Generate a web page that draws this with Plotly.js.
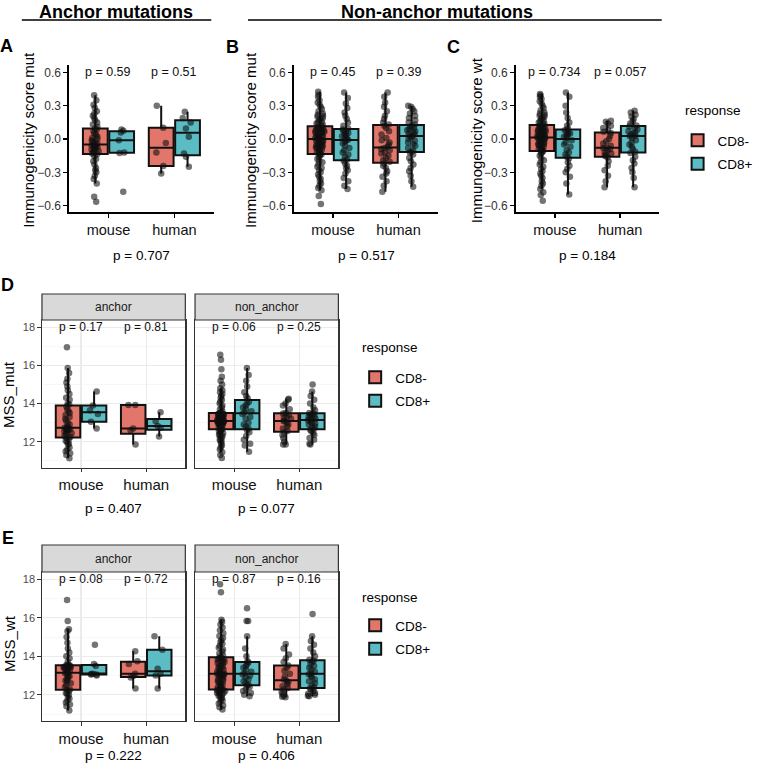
<!DOCTYPE html>
<html><head><meta charset="utf-8">
<script src="https://cdn.plot.ly/plotly-3.0.1.min.js"></script>
<style>html,body{margin:0;padding:0;background:#fff}</style>
</head><body><div id="chart" style="width:759px;height:771px"></div>
<script>
// ---------- categories ----------
const species = ['mouse', 'human'];
const responses = ['CD8-', 'CD8+'];

// ---------- Panel A: anchor mutations, Immunogenicity score mut ----------
const A_mouse_neg = [-0.565,-0.52,-0.40,-0.36,-0.33,-0.30,-0.28,-0.26,-0.23,-0.20,-0.18,-0.155,-0.135,
  -0.13,-0.12,-0.11,-0.10,-0.095,-0.09,-0.08,-0.075,-0.07,-0.06,-0.055,-0.052,-0.048,
  -0.04,-0.03,-0.02,-0.01,0.0,0.01,0.02,0.04,0.05,0.07,0.085,0.095,
  0.11,0.13,0.15,0.17,0.19,0.21,0.23,0.25,0.28,0.31,0.35,0.395];
const A_mouse_pos = [-0.475,-0.125,-0.12,-0.01,0.06,0.075,0.085];
const A_human_neg = [-0.31,-0.243,-0.12,-0.036,0.102,0.30];
const A_human_pos = [-0.25,-0.16,-0.13,0.02,0.094,0.15,0.19,0.246];

// ---------- Panel B: non-anchor mutations, Immunogenicity score mut ----------
const B_mouse_neg = [-0.585,-0.514,-0.46,-0.44,-0.42,-0.40,-0.38,-0.36,-0.34,-0.32,-0.30,-0.28,-0.26,-0.25,-0.23,-0.21,-0.20,-0.18,-0.165,-0.15,-0.14,
  -0.13,-0.125,-0.12,-0.11,-0.10,-0.095,-0.09,-0.08,-0.075,-0.07,-0.06,-0.055,-0.05,-0.045,-0.04,-0.03,-0.025,-0.02,-0.015,-0.01,-0.005,
  0.005,0.01,0.015,0.02,0.025,0.03,0.035,0.04,0.05,0.055,0.06,0.065,0.07,0.075,0.08,0.085,0.09,0.095,0.10,0.105,0.11,
  0.12,0.13,0.14,0.15,0.16,0.17,0.18,0.19,0.20,0.21,0.22,0.23,0.25,0.27,0.29,0.31,0.33,0.35,0.38,0.40,0.426];
const B_mouse_pos = [-0.45,-0.42,-0.38,-0.35,-0.31,-0.28,-0.26,-0.24,-0.22,-0.195,
  -0.185,-0.16,-0.14,-0.12,-0.10,-0.08,-0.06,-0.04,-0.025,-0.012,
  -0.006,0.005,0.015,0.025,0.035,0.045,0.055,0.065,0.075,0.085,
  0.095,0.12,0.15,0.18,0.21,0.24,0.28,0.32,0.37,0.42];
const B_human_neg = [-0.475,-0.42,-0.38,-0.34,-0.31,-0.29,-0.26,-0.24,-0.22,
  -0.205,-0.19,-0.17,-0.15,-0.13,-0.12,-0.10,-0.09,-0.08,
  -0.07,-0.05,-0.03,-0.01,0.01,0.04,0.07,0.10,0.12,
  0.132,0.15,0.18,0.21,0.25,0.29,0.33,0.38,0.42];
const B_human_pos = [-0.43,-0.38,-0.33,-0.29,-0.26,-0.23,-0.20,-0.17,-0.14,-0.12,
  -0.114,-0.10,-0.08,-0.06,-0.045,-0.03,-0.015,0.0,0.015,0.025,
  0.029,0.04,0.05,0.06,0.07,0.08,0.09,0.10,0.11,0.12,
  0.132,0.15,0.17,0.19,0.21,0.23,0.25,0.27,0.29,0.30];

// ---------- Panel C: non-anchor mutations, Immunogenicity score wt ----------
const C_mouse_neg = [-0.556,-0.505,-0.48,-0.45,-0.42,-0.40,-0.38,-0.35,-0.33,-0.31,-0.29,-0.27,-0.25,-0.23,-0.21,-0.19,-0.17,-0.15,-0.13,-0.12,-0.11,
  -0.106,-0.10,-0.09,-0.085,-0.08,-0.07,-0.065,-0.06,-0.05,-0.045,-0.04,-0.03,-0.025,-0.02,-0.01,-0.005,0.0,0.005,0.008,0.011,0.014,
  0.016,0.02,0.025,0.03,0.035,0.04,0.045,0.05,0.055,0.06,0.065,0.07,0.075,0.08,0.09,0.095,0.10,0.105,0.11,0.115,0.122,
  0.13,0.14,0.15,0.16,0.17,0.18,0.19,0.20,0.21,0.22,0.23,0.24,0.26,0.28,0.30,0.32,0.34,0.36,0.38,0.395,0.405];
const C_mouse_pos = [-0.50,-0.40,-0.34,-0.30,-0.27,-0.24,-0.21,-0.175,
  -0.16,-0.14,-0.12,-0.10,-0.07,-0.05,-0.03,-0.01,
  0.01,0.02,0.03,0.04,0.05,0.06,0.07,0.08,
  0.094,0.12,0.15,0.19,0.24,0.30,0.38,0.42];
const C_human_neg = [-0.435,-0.38,-0.33,-0.28,-0.24,-0.20,-0.165,
  -0.153,-0.14,-0.13,-0.12,-0.10,-0.09,-0.08,
  -0.076,-0.06,-0.04,-0.02,0.0,0.03,0.055,
  0.065,0.08,0.10,0.12,0.14,0.155,0.165];
const C_human_pos = [-0.435,-0.35,-0.30,-0.26,-0.22,-0.19,-0.16,-0.125,
  -0.115,-0.09,-0.07,-0.05,-0.03,-0.01,0.01,0.025,
  0.029,0.04,0.05,0.06,0.07,0.085,0.10,0.112,
  0.122,0.14,0.16,0.18,0.20,0.22,0.24,0.255];

// ---------- Panel D: MSS_mut, facets anchor / non_anchor ----------
const D_anc_mouse_neg = [11.13,11.3,11.4,11.5,11.6,11.7,11.85,11.9,12.0,12.05,12.15,12.2,
  12.25,12.3,12.4,12.45,12.5,12.55,12.6,12.6,12.65,12.7,12.7,12.74,
  12.74,12.8,12.9,13.0,13.1,13.2,13.3,13.4,13.5,13.6,13.7,13.85,
  13.95,14.0,14.2,14.3,14.5,14.7,14.9,15.1,15.3,15.6,15.86,16.95];
const D_anc_mouse_pos = [12.7,13.05,13.45,13.65,13.9,14.63];
const D_anc_human_neg = [11.86,12.6,12.7,13.93,13.93];
const D_anc_human_pos = [12.27,12.74,12.83,13.08,13.55];
const D_non_mouse_neg = [11.15,11.3,11.45,11.6,11.7,11.8,11.9,12.0,12.05,12.1,12.2,12.25,12.3,12.35,12.4,12.45,12.5,12.55,12.6,12.64,
  12.66,12.7,12.7,12.75,12.8,12.8,12.85,12.9,12.9,12.95,12.95,13.0,13.0,13.0,13.05,13.05,13.07,13.08,13.08,13.09,
  13.09,13.1,13.12,13.15,13.15,13.2,13.2,13.25,13.25,13.3,13.3,13.35,13.35,13.4,13.4,13.45,13.45,13.48,13.5,13.5,
  13.52,13.6,13.7,13.8,13.9,14.0,14.1,14.2,14.3,14.4,14.5,14.6,14.7,14.8,15.0,15.2,15.4,15.8,16.3,16.56];
const D_non_mouse_pos = [11.47,11.8,11.9,12.1,12.3,12.5,12.6,
  12.7,12.8,12.9,13.0,13.2,13.3,13.45,
  13.53,13.6,13.7,13.8,13.9,14.0,14.1,
  14.28,14.4,14.6,14.9,15.2,15.5,15.86];
const D_non_human_neg = [11.86,11.86,12.0,12.2,12.35,12.5,
  12.56,12.7,12.8,12.9,13.0,13.08,
  13.1,13.2,13.25,13.3,13.4,13.48,
  13.5,13.7,13.9,14.0,14.2,14.25];
const D_non_human_pos = [11.86,11.9,12.1,12.2,12.35,12.45,12.55,12.63,
  12.67,12.75,12.8,12.9,12.95,13.0,13.05,13.12,
  13.16,13.2,13.25,13.3,13.35,13.4,13.45,13.48,
  13.5,13.65,13.8,14.0,14.2,14.4,14.63,15.0];

// ---------- Panel E: MSS_wt, facets anchor / non_anchor ----------
const E_anc_mouse_neg = [11.19,11.4,11.5,11.6,11.7,11.8,11.9,12.0,12.05,12.1,12.2,12.25,
  12.27,12.4,12.5,12.6,12.7,12.75,12.8,12.9,12.95,13.0,13.05,13.12,
  13.16,13.2,13.25,13.3,13.35,13.4,13.42,13.45,13.48,13.5,13.52,13.53,
  13.55,13.7,13.9,14.0,14.2,14.4,14.7,15.0,15.3,15.4,15.84,16.93];
const E_anc_mouse_pos = [13.0,13.05,13.05,13.08,13.1,13.5,13.6,14.6];
const E_anc_human_neg = [12.33,12.9,12.98,13.09,13.6,13.75,14.26];
const E_anc_human_pos = [12.33,13.0,13.1,13.36,14.34,15.04];
const E_non_mouse_neg = [11.24,11.35,11.45,11.55,11.65,11.7,11.8,11.85,11.9,11.95,12.0,12.05,12.1,12.1,12.15,12.2,12.2,12.25,12.25,12.26,
  12.28,12.3,12.35,12.4,12.45,12.5,12.55,12.6,12.65,12.7,12.75,12.8,12.85,12.9,12.95,13.0,13.02,13.05,13.07,13.08,
  13.1,13.12,13.15,13.2,13.25,13.3,13.35,13.4,13.45,13.5,13.55,13.6,13.65,13.7,13.75,13.8,13.85,13.88,13.9,13.93,
  13.97,14.05,14.15,14.25,14.35,14.45,14.55,14.65,14.75,14.85,14.95,15.05,15.2,15.35,15.5,15.65,15.8,15.9,17.33,17.74];
const E_non_mouse_pos = [11.93,12.0,12.1,12.2,12.3,12.4,12.48,
  12.52,12.6,12.7,12.8,12.9,13.0,13.06,
  13.12,13.2,13.3,13.4,13.5,13.6,13.68,
  13.74,14.0,14.4,15.04,15.84,15.84,16.5];
const E_non_human_neg = [11.88,11.9,11.95,12.05,12.15,12.27,12.35,12.45,12.55,12.65,12.72,
  12.8,12.95,13.1,13.25,13.4,13.52,13.7,13.9,14.1,14.4,14.64];
const E_non_human_pos = [11.93,11.95,12.0,12.05,12.1,12.2,12.28,12.34,
  12.38,12.5,12.6,12.7,12.8,12.9,13.0,13.07,
  13.11,13.2,13.3,13.4,13.5,13.6,13.7,13.78,
  13.82,14.0,14.2,14.4,14.6,14.8,15.04,16.2];

// ---------- p-value labels ----------
const pA = ['p = 0.59', 'p = 0.51'],  pA_all = 'p = 0.707';
const pB = ['p = 0.45', 'p = 0.39'],  pB_all = 'p = 0.517';
const pC = ['p = 0.734', 'p = 0.057'], pC_all = 'p = 0.184';
const pD_anc = ['p = 0.17', 'p = 0.81'], pD_non = ['p = 0.06', 'p = 0.25'], pD_all = ['p = 0.407', 'p = 0.077'];
const pE_anc = ['p = 0.08', 'p = 0.72'], pE_non = ['p = 0.87', 'p = 0.16'], pE_all = ['p = 0.222', 'p = 0.406'];
const facets = ['anchor', 'non_anchor'];
const legendTitle = 'response';

// ---------- styling ----------
const W = 759, H = 771;
const FONT = 'Liberation Sans, Arial, sans-serif';
const RED = '#E3766B', CYAN = '#5BBDC3';
const fx = px => px / W, fy = py => 1 - py / H;

function boxTrace(xa, ya, mouseVals, humanVals, resp, legendName, show) {
  return {
    type: 'box', xaxis: xa, yaxis: ya, name: resp,
    x: mouseVals.map(() => species[0]).concat(humanVals.map(() => species[1])),
    y: mouseVals.concat(humanVals),
    alignmentgroup: xa, offsetgroup: resp,
    boxpoints: 'all', jitter: 0.4, pointpos: 0, whiskerwidth: 0,
    fillcolor: resp === responses[0] ? RED : CYAN,
    line: {color: '#111111', width: 2},
    marker: {color: 'rgba(15,15,15,0.58)', size: 6.5, line: {width: 0}},
    legend: legendName, legendgroup: legendName + resp, showlegend: show,
    hoverinfo: 'skip'
  };
}

const traces = [
  boxTrace('x', 'y', A_mouse_neg, A_human_neg, responses[0], 'legend', true),
  boxTrace('x', 'y', A_mouse_pos, A_human_pos, responses[1], 'legend', true),
  boxTrace('x2', 'y2', B_mouse_neg, B_human_neg, responses[0], 'legend', false),
  boxTrace('x2', 'y2', B_mouse_pos, B_human_pos, responses[1], 'legend', false),
  boxTrace('x3', 'y3', C_mouse_neg, C_human_neg, responses[0], 'legend', false),
  boxTrace('x3', 'y3', C_mouse_pos, C_human_pos, responses[1], 'legend', false),
  boxTrace('x4', 'y4', D_anc_mouse_neg, D_anc_human_neg, responses[0], 'legend2', true),
  boxTrace('x4', 'y4', D_anc_mouse_pos, D_anc_human_pos, responses[1], 'legend2', true),
  boxTrace('x5', 'y5', D_non_mouse_neg, D_non_human_neg, responses[0], 'legend2', false),
  boxTrace('x5', 'y5', D_non_mouse_pos, D_non_human_pos, responses[1], 'legend2', false),
  boxTrace('x6', 'y6', E_anc_mouse_neg, E_anc_human_neg, responses[0], 'legend3', true),
  boxTrace('x6', 'y6', E_anc_mouse_pos, E_anc_human_pos, responses[1], 'legend3', true),
  boxTrace('x7', 'y7', E_non_mouse_neg, E_non_human_neg, responses[0], 'legend3', false),
  boxTrace('x7', 'y7', E_non_mouse_pos, E_non_human_pos, responses[1], 'legend3', false)
];

// classic axes (panels A-C)
function classicX(x0, x1, anchor) {
  return {domain: [fx(x0), fx(x1)], anchor: anchor, type: 'category',
    categoryorder: 'array', categoryarray: species, range: [-0.6, 1.6],
    showline: true, linecolor: '#000', linewidth: 1.6, ticks: 'outside', ticklen: 4,
    tickwidth: 1.4, tickcolor: '#000', showgrid: false, zeroline: false,
    tickfont: {size: 14.5, color: '#111', family: FONT}, fixedrange: true};
}
function classicY(anchor) {
  return {domain: [fy(212), fy(65)], anchor: anchor, range: [-0.657, 0.667],
    tickvals: [-0.6, -0.3, 0, 0.3, 0.6], tickformat: '.1f',
    showline: true, linecolor: '#000', linewidth: 1.6, ticks: 'outside', ticklen: 4,
    tickwidth: 1.4, tickcolor: '#000', showgrid: false, zeroline: false,
    tickfont: {size: 12, color: '#333', family: FONT}, fixedrange: true};
}
// bw facet axes (panels D-E)
function bwX(x0, x1, anchor) {
  return {domain: [fx(x0), fx(x1)], anchor: anchor, type: 'category',
    categoryorder: 'array', categoryarray: species, range: [-0.6, 1.6],
    showline: true, mirror: true, linecolor: '#333', linewidth: 1.2,
    ticks: 'outside', ticklen: 3.5, tickwidth: 1.1, tickcolor: '#333',
    showgrid: true, gridcolor: '#EBEBEB', gridwidth: 1.2, zeroline: false,
    tickfont: {size: 15, color: '#111', family: FONT}, fixedrange: true};
}
function bwY(y0, y1, anchor, labels) {
  return {domain: [fy(y1), fy(y0)], anchor: anchor, range: [10.64, 18.38],
    tickvals: [12, 14, 16, 18],
    showline: true, mirror: true, linecolor: '#333', linewidth: 1.2,
    ticks: labels ? 'outside' : '', ticklen: 3.5, tickwidth: 1.1, tickcolor: '#333',
    showticklabels: labels,
    showgrid: true, gridcolor: '#EBEBEB', gridwidth: 1.2, zeroline: false,
    minor: {dtick: 1, tick0: 0, showgrid: true, gridcolor: '#F3F3F3', gridwidth: 0.7, ticks: ''},
    tickfont: {size: 11, color: '#4D4D4D', family: FONT}, fixedrange: true};
}

const annotations = [];
const shapes = [];
function txt(x, y, text, size, opts) {
  annotations.push(Object.assign({x: fx(x), y: fy(y), xref: 'paper', yref: 'paper',
    text: text, showarrow: false, xanchor: 'center', yanchor: 'middle',
    font: {size: size, color: '#000', family: FONT}}, opts || {}));
}

// headers
txt(117, 12, '<b>Anchor mutations</b>', 18);
txt(440, 12, '<b>Non-anchor mutations</b>', 18);
shapes.push({type: 'line', xref: 'paper', yref: 'paper', x0: fx(22), x1: fx(213), y0: fy(20), y1: fy(20), line: {color: '#000', width: 1.5}});
shapes.push({type: 'line', xref: 'paper', yref: 'paper', x0: fx(250), x1: fx(667), y0: fy(20), y1: fy(20), line: {color: '#000', width: 1.5}});

// panel letters
[['A', 7, 46], ['B', 234, 47], ['C', 457, 47], ['D', 8, 285], ['E', 8, 538]].forEach(l => txt(l[1], l[2], '<b>' + l[0] + '</b>', 18));

// y titles
txt(28, 140, 'Immunogenicity score mut', 15, {textangle: -90});
txt(252, 140, 'Immunogenicity score mut', 15, {textangle: -90});
txt(480, 140, 'Immunogenicity score wt', 15, {textangle: -90});
txt(9, 394, 'MSS_mut', 15, {textangle: -90});
txt(9, 643, 'MSS_wt', 15, {textangle: -90});

// legend titles
txt(688, 111, legendTitle, 13.5, {xanchor: 'left'});
txt(363, 348, legendTitle, 13.5, {xanchor: 'left'});
txt(363, 597, legendTitle, 13.5, {xanchor: 'left'});

// per-species p values
function pLabels(xa, ya, labels, yv, size) {
  labels.forEach((t, i) => annotations.push({x: i, y: yv, xref: xa, yref: ya, text: t,
    showarrow: false, xanchor: 'center', yanchor: 'middle', font: {size: size, color: '#111', family: FONT}}));
}
pLabels('x', 'y', pA, 0.6, 12.5);
pLabels('x2', 'y2', pB, 0.6, 12.5);
pLabels('x3', 'y3', pC, 0.6, 12.5);
pLabels('x4', 'y4', pD_anc, 18, 12);
pLabels('x5', 'y5', pD_non, 18, 12);
pLabels('x6', 'y6', pE_anc, 18, 12);
pLabels('x7', 'y7', pE_non, 18, 12);

// overall p values
txt(142.5, 256, pA_all, 13.5);
txt(369, 256, pB_all, 13.5);
txt(592, 256, pC_all, 13.5);
txt(114.5, 508, pD_all[0], 13.5);
txt(268.9, 508, pD_all[1], 13.5);
txt(114.5, 755, pE_all[0], 13.5);
txt(268.9, 755, pE_all[1], 13.5);

// facet strips
function strip(xa, ya, label, hFrac) {
  shapes.push({type: 'rect', xref: xa + ' domain', yref: ya + ' domain', x0: 0, x1: 1, y0: 1, y1: 1 + hFrac,
    fillcolor: '#D9D9D9', line: {color: '#333', width: 1.2}});
  annotations.push({x: 0.5, y: 1 + hFrac / 2, xref: xa + ' domain', yref: ya + ' domain', text: label,
    showarrow: false, xanchor: 'center', yanchor: 'middle', font: {size: 12, color: '#1A1A1A', family: FONT}});
}
strip('x4', 'y4', facets[0], 26 / 147.7);
strip('x5', 'y5', facets[1], 26 / 147.7);
strip('x6', 'y6', facets[0], 27 / 149);
strip('x7', 'y7', facets[1], 27 / 149);

function legendDef(x, y) {
  return {x: fx(x), y: fy(y), xanchor: 'left', yanchor: 'top', bgcolor: 'rgba(0,0,0,0)',
    font: {size: 13.5, family: FONT, color: '#000'}, tracegroupgap: 3, traceorder: 'grouped', itemclick: false};
}

const layout = {
  width: W, height: H, margin: {l: 0, r: 0, t: 0, b: 0}, autosize: false,
  paper_bgcolor: '#fff', plot_bgcolor: '#fff', font: {family: FONT},
  boxmode: 'group', boxgap: 0.2, boxgroupgap: 0.06,
  xaxis: classicX(69.5, 215.6, 'y'), yaxis: classicY('x'),
  xaxis2: classicX(296.1, 441.3, 'y2'), yaxis2: classicY('x2'),
  xaxis3: classicX(519.9, 664.5, 'y3'), yaxis3: classicY('x3'),
  xaxis4: bwX(42.3, 186.8, 'y4'), yaxis4: bwY(320, 467.7, 'x4', true),
  xaxis5: bwX(196.6, 341.1, 'y5'), yaxis5: bwY(320, 467.7, 'x5', false),
  xaxis6: bwX(42.3, 186.8, 'y6'), yaxis6: bwY(572, 721, 'x6', true),
  xaxis7: bwX(196.6, 341.1, 'y7'), yaxis7: bwY(572, 721, 'x7', false),
  legend: legendDef(683, 125),
  legend2: legendDef(358, 362),
  legend3: legendDef(358, 610),
  annotations: annotations, shapes: shapes
};

Plotly.newPlot('chart', traces, layout, {staticPlot: true, displayModeBar: false});
</script>
</body></html>
